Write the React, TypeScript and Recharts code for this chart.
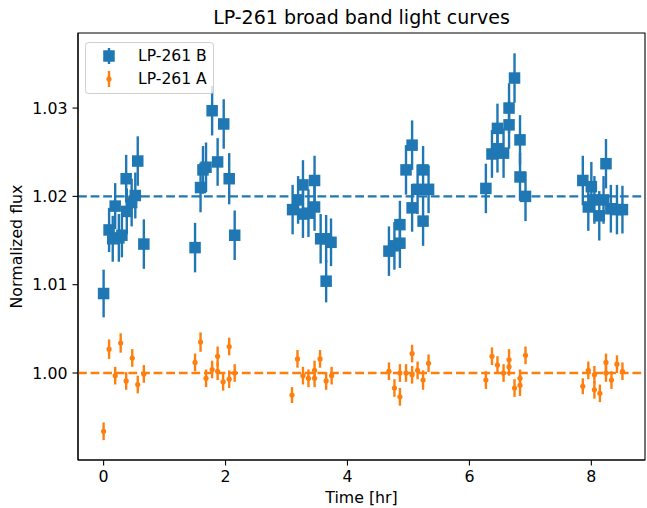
import React from 'react';
import {
  ScatterChart,
  Scatter,
  XAxis,
  YAxis,
  ErrorBar,
  ReferenceLine,
  ReferenceArea,
  Legend,
  Label,
} from 'recharts';

// ---- text ----
const TITLE = 'LP-261 broad band light curves';
const X_LABEL = 'Time [hr]';
const Y_LABEL = 'Normalized flux';
const SERIES_NAMES = ['LP-261 B', 'LP-261 A'];

// ---- ticks / levels ----
const X_TICKS = [0, 2, 4, 6, 8];
const Y_TICKS = [1.0, 1.01, 1.02, 1.03];
const X_DOMAIN = [-0.42, 8.88];
const Y_DOMAIN = [0.99015, 1.0385];
const B_LEVEL = 1.02;
const A_LEVEL = 1.0;

// ---- LP-261 B ----
const bTime = [
  0.0, 0.09, 0.15, 0.19, 0.25, 0.3, 0.37, 0.38, 0.46, 0.52, 0.56, 0.66,
  1.5, 1.59, 1.63, 1.68, 1.78, 1.87, 1.97, 2.06, 2.15,
  3.1, 3.19, 3.27, 3.27, 3.36, 3.46, 3.46, 3.56, 3.65, 3.65, 3.73,
  4.68, 4.77, 4.86, 4.86, 4.96, 5.06, 5.06, 5.15, 5.24, 5.24, 5.33,
  6.27, 6.37, 6.46, 6.46, 6.56, 6.65, 6.65, 6.74, 6.83, 6.83, 6.92,
  7.86, 7.95, 8.0, 8.05, 8.13, 8.2, 8.24, 8.32, 8.42, 8.51,
];
const bFlux = [
  1.009, 1.0162, 1.0152, 1.0189, 1.0153, 1.0156, 1.022, 1.0183, 1.0193, 1.0201, 1.024, 1.0146,
  1.0142, 1.021, 1.023, 1.0233, 1.0297, 1.0239, 1.0282, 1.022, 1.0156,
  1.0185, 1.0196, 1.0213, 1.018, 1.0181, 1.0218, 1.0188, 1.0152, 1.0152, 1.0104, 1.0148,
  1.0138, 1.0144, 1.0147, 1.0168, 1.023, 1.0258, 1.0187, 1.0208, 1.023, 1.0172, 1.0208,
  1.0209, 1.0248, 1.0277, 1.0254, 1.0249, 1.03, 1.0281, 1.0334, 1.0264, 1.0222, 1.02,
  1.0218, 1.0188, 1.0211, 1.0196, 1.0178, 1.0196, 1.0237, 1.0186, 1.0185, 1.0185,
];
const bErr = [
  0.0027, 0.0025, 0.0026, 0.0026, 0.0027, 0.0025, 0.0027, 0.0026, 0.0027, 0.0026, 0.0028, 0.0028,
  0.0028, 0.0028, 0.0027, 0.0028, 0.0028, 0.0027, 0.0028, 0.0029, 0.0028,
  0.0028, 0.0027, 0.0028, 0.0027, 0.0027, 0.0028, 0.0027, 0.0028, 0.0027, 0.0024, 0.0027,
  0.0028, 0.0027, 0.0028, 0.0027, 0.0028, 0.0028, 0.0027, 0.0028, 0.0027, 0.0028, 0.0027,
  0.0028, 0.0027, 0.0028, 0.0027, 0.0028, 0.0028, 0.0027, 0.0028, 0.0028, 0.0027, 0.0028,
  0.0028, 0.0027, 0.0028, 0.0027, 0.0028, 0.0027, 0.0028, 0.0027, 0.0028, 0.0027,
];

// ---- LP-261 A ----
const aTime = [
  0.0, 0.09, 0.19, 0.28, 0.37, 0.47, 0.56, 0.66,
  1.5, 1.59, 1.68, 1.78, 1.87, 1.87, 1.96, 2.06, 2.06, 2.15,
  3.09, 3.18, 3.27, 3.36, 3.46, 3.46, 3.55, 3.65, 3.74,
  4.68, 4.77, 4.86, 4.86, 4.96, 5.06, 5.06, 5.15, 5.24, 5.33,
  6.27, 6.37, 6.46, 6.56, 6.65, 6.65, 6.74, 6.83, 6.83, 6.92,
  7.86, 7.95, 8.05, 8.05, 8.14, 8.24, 8.24, 8.33, 8.42, 8.51,
];
const aFlux = [
  0.9934, 1.0027, 0.9997, 1.0034, 0.9991, 1.0017, 0.9987, 0.9999,
  1.0012, 1.0035, 0.9994, 1.0004, 1.0019, 1.0002, 0.999, 1.003, 0.9993, 1.0,
  0.9975, 1.0016, 0.9997, 0.9994, 1.0003, 0.9994, 1.0016, 0.9991, 0.9997,
  1.0002, 0.9983, 0.9973, 1.0, 1.0, 1.0022, 0.9998, 1.0003, 0.9992, 1.0011,
  0.9992, 1.0019, 1.0009, 1.0, 1.0015, 1.0007, 0.9983, 0.9986, 0.9994, 1.002,
  0.9985, 1.0003, 0.9998, 0.9981, 0.9977, 1.0012, 1.0, 0.9992, 1.001, 1.0002,
];
const aErr = [
  0.001, 0.0011, 0.001, 0.0011, 0.001, 0.001, 0.001, 0.001,
  0.001, 0.0011, 0.001, 0.001, 0.0011, 0.001, 0.001, 0.001, 0.001, 0.001,
  0.0009, 0.001, 0.001, 0.001, 0.0011, 0.001, 0.001, 0.001, 0.001,
  0.001, 0.001, 0.001, 0.001, 0.001, 0.001, 0.001, 0.001, 0.0011, 0.001,
  0.001, 0.001, 0.001, 0.001, 0.0012, 0.001, 0.001, 0.0012, 0.001, 0.001,
  0.0009, 0.001, 0.001, 0.001, 0.001, 0.001, 0.001, 0.001, 0.001, 0.001,
];

const BLUE = '#1f77b4';
const ORANGE = '#ff7f0e';
const FONT = 'DejaVu Sans, sans-serif';
const TICK_FS = 15.8;

const bData = bTime.map((t, i) => ({ t, f: bFlux[i], e: bErr[i] }));
const aData = aTime.map((t, i) => ({ t, f: aFlux[i], e: aErr[i] }));

const Square = (props: any) => {
  const { cx, cy } = props;
  if (cx == null || cy == null) return null;
  const s = 11.5;
  return <rect x={cx - s / 2} y={cy - s / 2} width={s} height={s} fill={BLUE} />;
};

const Dot = (props: any) => {
  const { cx, cy } = props;
  if (cx == null || cy == null) return null;
  return <circle cx={cx} cy={cy} r={2.6} fill={ORANGE} />;
};

const LegendIcon = ({ kind }: { kind: number }) => (
  <svg width={20} height={20} style={{ display: 'block' }}>
    {kind === 0 ? (
      <g>
        <line x1={10} y1={2} x2={10} y2={18} stroke={BLUE} strokeWidth={2.4} />
        <rect x={4.25} y={4.25} width={11.5} height={11.5} fill={BLUE} />
      </g>
    ) : (
      <g>
        <line x1={10} y1={2} x2={10} y2={18} stroke={ORANGE} strokeWidth={2.4} />
        <circle cx={10} cy={10} r={2.6} fill={ORANGE} />
      </g>
    )}
  </svg>
);

const renderLegend = () => (
  <div
    style={{
      width: 129,
      height: 52,
      boxSizing: 'border-box',
      border: '1px solid rgba(204,204,204,0.9)',
      borderRadius: 4,
      background: 'rgba(255,255,255,0.8)',
      fontFamily: FONT,
      fontSize: 15.6,
      color: '#000',
      position: 'relative',
    }}
  >
    {SERIES_NAMES.map((name, i) => (
      <div
        key={name}
        style={{
          position: 'absolute',
          left: 13,
          top: 3 + i * 23,
          height: 20,
          display: 'flex',
          alignItems: 'center',
          whiteSpace: 'nowrap',
        }}
      >
        <LegendIcon kind={i} />
        <span style={{ marginLeft: 19, lineHeight: '20px' }}>{name}</span>
      </div>
    ))}
  </div>
);

const YLabelContent = (props: any) => {
  const vb = props.viewBox || { x: 18, y: 33, width: 60, height: 427 };
  const x = 22;
  const y = vb.y + vb.height / 2;
  return (
    <text
      x={x}
      y={y}
      transform={`rotate(-90, ${x}, ${y})`}
      textAnchor="middle"
      fontFamily={FONT}
      fontSize={TICK_FS}
      fill="#000"
    >
      {Y_LABEL}
    </text>
  );
};

const XLabelContent = (props: any) => {
  const vb = props.viewBox || { x: 78, y: 460, width: 567, height: 30 };
  return (
    <text
      x={vb.x + vb.width / 2}
      y={503}
      textAnchor="middle"
      fontFamily={FONT}
      fontSize={TICK_FS}
      fill="#000"
    >
      {X_LABEL}
    </text>
  );
};

const TitleContent = (props: any) => {
  const vb = props.viewBox || { x: 78, y: 33, width: 567, height: 427 };
  return (
    <text
      x={vb.x + vb.width / 2}
      y={24}
      textAnchor="middle"
      fontFamily={FONT}
      fontSize={19}
      fill="#000"
    >
      {TITLE}
    </text>
  );
};

export default function App() {
  return (
    <div style={{ position: 'absolute', left: 0, top: 0, width: 647, height: 508, background: '#fff' }}>
      <ScatterChart
        width={647}
        height={508}
        margin={{ top: 33, right: 2, bottom: 18, left: 18 }}
        style={{ fontFamily: FONT }}
      >
        <XAxis
          dataKey="t"
          type="number"
          domain={X_DOMAIN}
          allowDataOverflow
          ticks={X_TICKS}
          height={30}
          tickSize={5.5}
          tickMargin={5}
          tick={{ fill: '#000', fontSize: TICK_FS, fontFamily: FONT }}
          axisLine={{ stroke: '#000', strokeWidth: 1.1 }}
          tickLine={{ stroke: '#000', strokeWidth: 1.1 }}
        >
          <Label content={XLabelContent} />
        </XAxis>
        <YAxis
          dataKey="f"
          type="number"
          domain={Y_DOMAIN}
          allowDataOverflow
          ticks={Y_TICKS}
          width={60}
          tickSize={5.5}
          tickMargin={5}
          tickFormatter={(v: number) => v.toFixed(2)}
          tick={{ fill: '#000', fontSize: TICK_FS, fontFamily: FONT }}
          axisLine={{ stroke: '#000', strokeWidth: 1.1 }}
          tickLine={{ stroke: '#000', strokeWidth: 1.1 }}
        >
          <Label content={YLabelContent} />
        </YAxis>
        <ReferenceArea
          x1={X_DOMAIN[0]}
          x2={X_DOMAIN[1]}
          y1={Y_DOMAIN[0]}
          y2={Y_DOMAIN[1]}
          fill="none"
          fillOpacity={0}
          stroke="#000"
          strokeWidth={1.1}
          ifOverflow="visible"
          label={TitleContent}
        />
        <ReferenceLine y={B_LEVEL} stroke={BLUE} strokeWidth={2.4} strokeDasharray="8.8 3.8" ifOverflow="visible" />
        <ReferenceLine y={A_LEVEL} stroke={ORANGE} strokeWidth={2.4} strokeDasharray="8.8 3.8" ifOverflow="visible" />
        <Scatter name={SERIES_NAMES[0]} data={bData} shape={Square} isAnimationActive={false}>
          <ErrorBar dataKey="e" direction="y" width={0} stroke={BLUE} strokeWidth={2.4} />
        </Scatter>
        <Scatter name={SERIES_NAMES[1]} data={aData} shape={Dot} isAnimationActive={false}>
          <ErrorBar dataKey="e" direction="y" width={0} stroke={ORANGE} strokeWidth={2.4} />
        </Scatter>
        <Legend
          layout="vertical"
          align="center"
          verticalAlign="middle"
          content={renderLegend}
          wrapperStyle={{ position: 'absolute', left: 85, top: 42, width: 129, height: 52 }}
        />
      </ScatterChart>
    </div>
  );
}
